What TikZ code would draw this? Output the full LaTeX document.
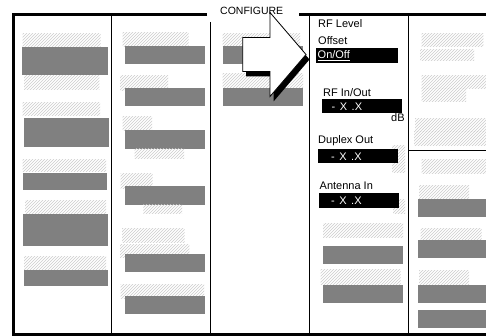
\documentclass[tikz,border=0pt]{standalone}
\usepackage{fontspec}
\setmainfont{Liberation Sans}
\usetikzlibrary{patterns}
\begin{document}
\begin{tikzpicture}[x=1pt,y=-1pt,
  hatch/.style={pattern=north east lines, pattern color=black!20},
  dark/.style={fill=black!50},
  blk/.style={fill=black},
  lbl/.style={font=\fontsize{11}{13}\selectfont, inner sep=0pt, anchor=base west},
  wlbl/.style={lbl, text=white},
  thinline/.style={line width=1.2pt},
  frameline/.style={line width=3pt},
  arrowbody/.style={fill=white, draw=black, line width=0.8pt, line join=miter}]
\useasboundingbox (0,0) rectangle (486,336);
\fill[white] (0,0) rectangle (486,336);

% column 1
\fill[hatch] (22.7,34) rectangle (100.7,46.7);
\fill[dark] (22,47) rectangle (108,74.7);
\fill[hatch] (24,76) rectangle (99.3,89.3);
\fill[hatch] (22.7,102.7) rectangle (100,116);
\fill[dark] (24,118) rectangle (109,146.7);
\fill[hatch] (22.7,160) rectangle (106,172);
\fill[dark] (23,172.7) rectangle (107,190);
\fill[hatch] (25,200.7) rectangle (106,214);
\fill[dark] (23,214) rectangle (108,246);
\fill[hatch] (24,256) rectangle (106,269.3);
\fill[dark] (24,270) rectangle (108,285.7);

% column 2
\fill[hatch] (122.7,32.7) rectangle (188.7,46.7);
\fill[dark] (125,46) rectangle (205,64);
\fill[hatch] (120,76) rectangle (168,90.7);
\fill[dark] (125,88) rectangle (205,106);
\fill[hatch] (122.7,116.7) rectangle (152,130.7);
\fill[dark] (125,130) rectangle (205,148.7);
\fill[hatch] (134.7,148.7) rectangle (184,158.7);
\fill[hatch] (120.7,174) rectangle (152.7,188.7);
\fill[dark] (125,186) rectangle (205,204.7);
\fill[hatch] (143.3,204.7) rectangle (182,213.7);
\fill[hatch] (122,228.7) rectangle (184.7,242);
\fill[hatch] (120,244) rectangle (189.3,257.3);
\fill[dark] (125,254) rectangle (205,272);
\fill[hatch] (120.7,284.7) rectangle (204,298);
\fill[dark] (125,296) rectangle (205,314);

% column 3
\fill[hatch] (222.7,33.3) rectangle (300,46.7);
\fill[dark] (222.7,46.3) rectangle (303,64);
\fill[hatch] (222.7,74) rectangle (303,88);
\fill[dark] (222.7,88.3) rectangle (303,106);

% column 4
\fill[hatch] (392,146) rectangle (405,173);
\fill[hatch] (393,200) rectangle (405,214);
\fill[hatch] (323,224) rectangle (403,237.3);
\fill[dark] (323,245.7) rectangle (403,264);
\fill[hatch] (320.7,269.7) rectangle (400.7,284);
\fill[dark] (323,284.7) rectangle (403,303);

% column 5
\fill[hatch] (421.7,33.3) rectangle (483.3,46.7);
\fill[hatch] (420,49.3) rectangle (474,60.7);
\fill[hatch] (421.7,76) rectangle (486,88.3);
\fill[hatch] (421.7,88.3) rectangle (466,101.7);
\fill[hatch] (415,118.3) rectangle (486,131.7);
\fill[hatch] (414,131.7) rectangle (486,146);
\fill[hatch] (421.7,160) rectangle (486,174);
\fill[hatch] (419,186) rectangle (469,199.3);
\fill[dark] (418,199.3) rectangle (486,216.7);
\fill[hatch] (420.7,228.3) rectangle (481.7,240);
\fill[dark] (418,240) rectangle (486,257.7);
\fill[hatch] (419,270) rectangle (469,284);
\fill[dark] (418,285) rectangle (486,302.7);
\fill[dark] (418,310) rectangle (486,327.7);

% black value fields
\fill[blk] (316.3,48.3) rectangle (398,62.7);
\fill[blk] (322,98.7) rectangle (402.3,112.7);
\fill[blk] (318,149.3) rectangle (398,163.3);
\fill[blk] (319,193.5) rectangle (399,208);

% frame and dividers
\draw[frameline, line join=miter] (207,14.7) -- (13.5,14.7) -- (13.5,334.5) -- (488,334.5);
\draw[frameline] (299.3,14.7) -- (488,14.7);
\draw[thinline] (111.5,14.7) -- (111.5,334.5);
\draw[thinline] (210.5,22) -- (210.5,334.5);
\draw[thinline] (309.7,14.7) -- (309.7,334.5);
\draw[thinline] (408.5,14.7) -- (408.5,334.5);
\draw[thinline] (408.5,150.7) -- (488,150.7);

% big arrow with shadow
\coordinate (A) at (242.7,37.5);
\coordinate (B) at (270,37.5);
\coordinate (C) at (270,12.5);
\coordinate (D) at (306,54.5);
\coordinate (E) at (270,96.5);
\coordinate (F) at (270,71.5);
\coordinate (G) at (242.7,71.5);
\fill[black] ([shift={(3.5,5)}]A) -- ([shift={(3.5,5)}]B) -- ([shift={(3.5,5)}]C)
  -- ([shift={(3.5,5)}]D) -- ([shift={(3.5,5)}]E) -- ([shift={(3.5,5)}]F)
  -- ([shift={(3.5,5)}]G) -- cycle;
\draw[arrowbody] (A) -- (B) -- (C) -- (D) -- (E) -- (F) -- (G) -- cycle;

% texts
\node[lbl, font=\fontsize{10.5}{12}\selectfont] (cfg) at (220,15) {CONFIGURE};
\node[lbl] (rflevel) at (318,27.7) {RF Level};
\node[lbl] (offset) at (318,44.3) {Offset};
\node[wlbl] (onoff) at (317.5,58.3) {\underline{On/Off}};
\node[lbl] (rfio) at (323,96.7) {RF In/Out};
\node[wlbl] (v1) at (331.5,110.5) {{\spaceskip=4.5pt - X .X}};
\node[lbl] (db) at (391,122) {dB};
\node[lbl] (dup) at (318,143.5) {Duplex Out};
\node[wlbl] (v2) at (331,160.5) {{\spaceskip=4.5pt - X .X}};
\node[lbl] (ant) at (319.5,189.7) {Antenna In};
\node[wlbl] (v3) at (331,205) {{\spaceskip=4.5pt - X .X}};
\end{tikzpicture}
\end{document}
